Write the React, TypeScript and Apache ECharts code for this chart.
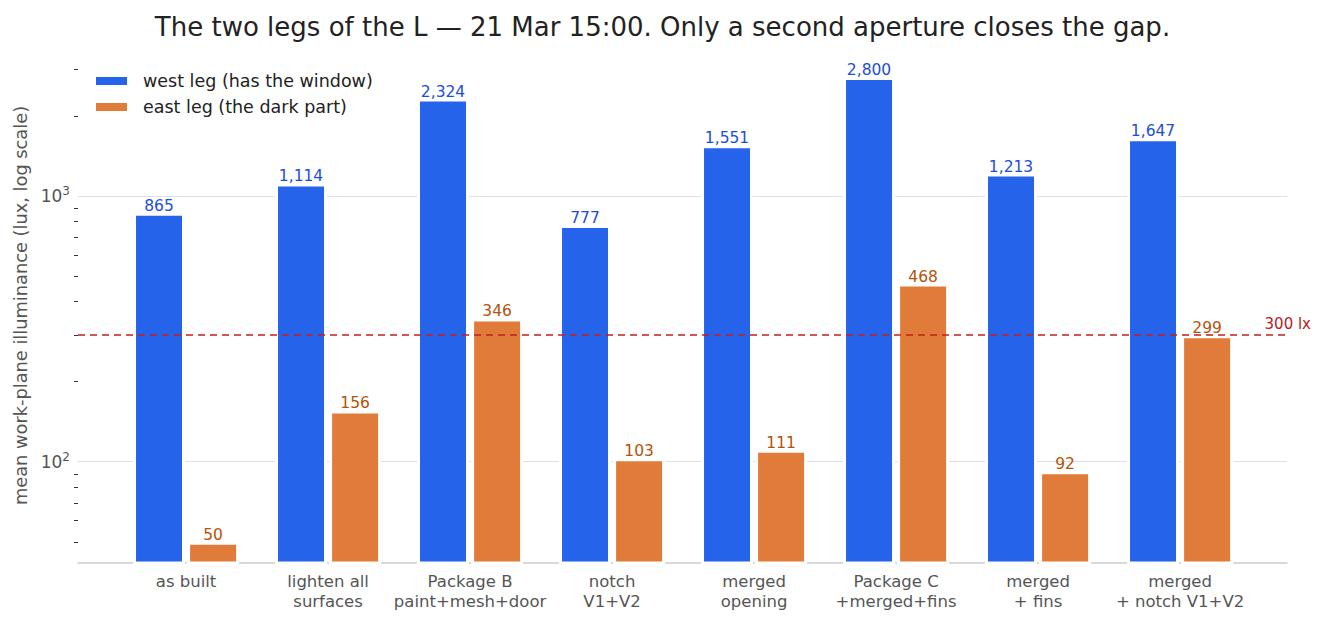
import React, { useEffect, useRef } from "react";
import * as echarts from "echarts";

const categories = [
  "as built",
  "lighten all\nsurfaces",
  "Package B\npaint+mesh+door",
  "notch\nV1+V2",
  "merged\nopening",
  "Package C\n+merged+fins",
  "merged\n+ fins",
  "merged\n+ notch V1+V2",
];
const westLeg = [865, 1114, 2324, 777, 1551, 2800, 1213, 1647];
const eastLeg = [50, 156, 346, 103, 111, 468, 92, 299];
const threshold = 300;
const majorTicks = [100, 1000];
const minorTicks = [50, 60, 70, 80, 90, 200, 300, 400, 500, 600, 700, 800, 900, 2000, 3000];
const categoryIndex = categories.map((_, i) => i);

const FONT = "DejaVu Sans";
const fmt = (v: number) => v.toLocaleString("en-US");

export default function App() {
  const ref = useRef<HTMLDivElement>(null);
  useEffect(() => {
    document.body.style.margin = "0";
    const chart = echarts.init(ref.current!, null, { renderer: "svg" });
    chart.setOption({
      animation: false,
      backgroundColor: "#ffffff",
      textStyle: { fontFamily: FONT },
      title: {
        text: "The two legs of the L — 21 Mar 15:00. Only a second aperture closes the gap.",
        left: "center",
        top: 9,
        textStyle: { fontFamily: FONT, fontSize: 26, fontWeight: "normal", color: "#222222" },
      },
      legend: {
        orient: "vertical",
        left: 89,
        top: 67,
        itemWidth: 33,
        itemHeight: 10,
        itemGap: 8,
        icon: "rect",
        textStyle: { fontFamily: FONT, fontSize: 17.5, color: "#222222", padding: [0, 0, 0, 10] },
        data: ["west leg (has the window)", "east leg (the dark part)"],
      },
      grid: { left: 78, right: 38, top: 48, bottom: 62, containLabel: false },
      xAxis: {
        type: "value",
        min: -0.761,
        max: 7.753,
        axisLine: { show: true, lineStyle: { color: "#cccccc", width: 1.5 } },
        axisTick: { show: false },
        splitLine: { show: false },
        axisLabel: {
          customValues: categoryIndex,
          formatter: (v: number) => categories[Math.round(v)] ?? "",
          color: "#555555",
          fontFamily: FONT,
          fontSize: 16.5,
          lineHeight: 20,
          margin: 8,
        },
      },
      yAxis: [
        {
          type: "log",
          logBase: 10,
          min: 41.6,
          max: 3600,
          name: "mean work-plane illuminance (lux, log scale)",
          nameLocation: "middle",
          nameGap: 43,
          nameTextStyle: { fontFamily: FONT, fontSize: 17.8, color: "#555555" },
          axisLine: { show: false },
          axisTick: { show: false, customValues: majorTicks },
          splitLine: { show: true, lineStyle: { color: "#e0e0e0", width: 1.2 } },
          axisLabel: {
            customValues: majorTicks,
            margin: 8,
            color: "#555555",
            fontFamily: FONT,
            formatter: (v: number) => `10{s|${Math.round(Math.log10(v))}}`,
            rich: {
              s: { fontSize: 12, color: "#555555", fontFamily: FONT, padding: [0, 0, 10, 0] },
            },
            fontSize: 17,
          },
        },
        {
          type: "log",
          logBase: 10,
          min: 41.6,
          max: 3600,
          position: "left",
          axisLine: { show: false },
          axisLabel: { show: false },
          splitLine: { show: false },
          axisTick: {
            show: true,
            customValues: minorTicks,
            length: 4,
            lineStyle: { color: "#333333", width: 1 },
          },
        },
      ],
      series: [
        {
          name: "west leg (has the window)",
          type: "bar",
          z: 3,
          barWidth: 52,
          barGap: "4%",
          data: westLeg.map((v, i) => [i, v]),
          itemStyle: { color: "#2563EB", borderColor: "#ffffff", borderWidth: 3 },
          label: {
            show: true,
            position: "top",
            distance: -1,
            color: "#1D4ED8",
            fontFamily: FONT,
            fontSize: 15.5,
            formatter: (p: any) => fmt(p.value[1]),
          },
        },
        {
          name: "east leg (the dark part)",
          type: "bar",
          z: 3,
          barWidth: 52,
          barGap: "4%",
          data: eastLeg.map((v, i) => [i, v]),
          itemStyle: { color: "#E07B39", borderColor: "#ffffff", borderWidth: 3 },
          label: {
            show: true,
            position: "top",
            distance: -1,
            color: "#B45309",
            fontFamily: FONT,
            fontSize: 15.5,
            formatter: (p: any) => fmt(p.value[1]),
          },
        },
        {
          name: "threshold",
          type: "line",
          z: 1,
          data: [],
          markLine: {
            silent: true,
            symbol: "none",
            lineStyle: { color: "#C0201E", type: [7, 5], width: 1.6 },
            label: {
              show: true,
              formatter: "300 lx",
              position: "insideEndTop",
              color: "#B91C1C",
              fontFamily: FONT,
              fontSize: 15,
              offset: [27, 0],
              distance: 3,
            },
            data: [{ yAxis: threshold }],
          },
        },
      ],
    });
    return () => chart.dispose();
  }, []);
  return <div ref={ref} style={{ width: 1325, height: 625 }} />;
}
